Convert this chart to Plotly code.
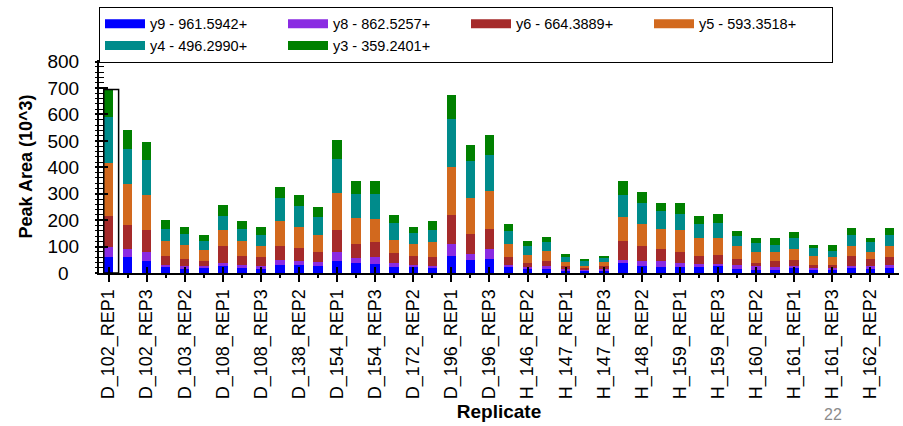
import plotly.graph_objects as go

# Replicate names (14 samples x 3 replicates)
replicates = [
    "D_102_REP1", "D_102_REP2", "D_102_REP3",
    "D_103_REP1", "D_103_REP2", "D_103_REP3",
    "D_108_REP1", "D_108_REP2", "D_108_REP3",
    "D_138_REP1", "D_138_REP2", "D_138_REP3",
    "D_154_REP1", "D_154_REP2", "D_154_REP3",
    "D_172_REP1", "D_172_REP2", "D_172_REP3",
    "D_196_REP1", "D_196_REP2", "D_196_REP3",
    "H_146_REP1", "H_146_REP2", "H_146_REP3",
    "H_147_REP1", "H_147_REP2", "H_147_REP3",
    "H_148_REP1", "H_148_REP2", "H_148_REP3",
    "H_159_REP1", "H_159_REP2", "H_159_REP3",
    "H_160_REP1", "H_160_REP2", "H_160_REP3",
    "H_161_REP1", "H_161_REP2", "H_161_REP3",
    "H_162_REP1", "H_162_REP2", "H_162_REP3",
]

# Peak areas (x10^3) per transition, stacked bottom to top
y9 = [59, 59, 47, 23, 15, 19, 28, 19, 16, 32, 32, 25, 47, 38, 34, 23, 23, 19, 63, 48, 53,
      21, 16, 15, 10, 10, 10, 38, 28, 21, 23, 21, 25, 16, 13, 13, 19, 13, 13, 19, 16, 19]
y8 = [38, 32, 31, 9, 10, 9, 10, 10, 9, 18, 12, 15, 31, 19, 25, 15, 6, 9, 48, 25, 38,
      11, 7, 10, 5, 4, 5, 12, 19, 23, 15, 14, 9, 13, 12, 8, 9, 6, 6, 9, 12, 13]
y6 = [120, 89, 86, 31, 28, 19, 63, 34, 34, 51, 51, 40, 86, 54, 57, 38, 34, 31, 110, 76, 77,
      27, 15, 19, 13, 5, 13, 70, 54, 47, 42, 28, 35, 25, 13, 23, 22, 13, 13, 35, 26, 27]
y5 = [199, 157, 130, 57, 52, 41, 62, 57, 42, 97, 78, 63, 139, 97, 90, 50, 48, 57, 179, 135, 144,
      52, 31, 41, 14, 9, 12, 91, 85, 77, 84, 70, 64, 47, 42, 34, 41, 31, 27, 38, 26, 44]
y4 = [175, 132, 135, 48, 43, 32, 54, 48, 44, 86, 79, 69, 129, 92, 94, 63, 40, 48, 181, 139, 135,
      47, 32, 32, 19, 20, 19, 83, 79, 65, 59, 53, 56, 38, 34, 27, 42, 32, 26, 42, 37, 42]
y3 = [103, 74, 67, 33, 26, 24, 40, 28, 28, 42, 42, 37, 73, 47, 48, 32, 23, 32, 94, 62, 74,
      28, 19, 19, 12, 5, 7, 53, 42, 32, 42, 31, 34, 19, 19, 28, 21, 12, 22, 27, 16, 25]

series_names = ["y9 - 961.5942+", "y8 - 862.5257+", "y6 - 664.3889+",
                "y5 - 593.3518+", "y4 - 496.2990+", "y3 - 359.2401+"]
series_values = [y9, y8, y6, y5, y4, y3]
series_colors = ["#0000FF", "#8A2BE2", "#A52A2A", "#D2691E", "#008B8B", "#008000"]

y_tick_values = [0, 100, 200, 300, 400, 500, 600, 700, 800]
# centre the labels by padding them to three digit widths with figure spaces
y_tick_text = []
for v in y_tick_values:
    s = str(v)
    pad = 3 - len(s)
    y_tick_text.append("\u2007" * (pad // 2) + s + "\u2007" * (pad - pad // 2))

selected_replicate = replicates[0]
page_number = "22"

FONT = "Liberation Sans, Arial, sans-serif"
RANGE_X = [-0.5, len(replicates) - 0.5]
RANGE_Y = [0, 806]

fig = go.Figure()

for name, vals, col in zip(series_names, series_values, series_colors):
    fig.add_trace(go.Bar(
        x=replicates, y=vals, name=name, legendgroup=name, showlegend=False,
        marker=dict(color=col, line=dict(width=0)),
    ))

# wide swatches for the legend
for name, col in zip(series_names, series_colors):
    fig.add_trace(go.Scatter(
        x=[None], y=[None], mode="lines", name=name, legendgroup=name,
        line=dict(color=col, width=9), hoverinfo="skip",
    ))

# helper traces that carry the extra tick axes
for xa, ya in (("x2", "y"), ("x3", "y"), ("x", "y2")):
    fig.add_trace(go.Scatter(
        x=replicates, y=[None] * len(replicates), xaxis=xa, yaxis=ya,
        mode="markers", showlegend=False, hoverinfo="skip",
    ))

# outline around the selected replicate
sel_idx = replicates.index(selected_replicate)
sel_total = sum(v[sel_idx] for v in series_values)
fig.add_shape(type="rect", xref="x", yref="y",
              x0=sel_idx - 0.25, x1=sel_idx + 0.53, y0=0, y1=sel_total,
              line=dict(color="black", width=1.5), fillcolor="rgba(0,0,0,0)")

fig.add_annotation(text=page_number, xref="paper", yref="paper", x=0.918, y=-0.708,
                   xanchor="center", yanchor="bottom", showarrow=False, borderpad=0,
                   font=dict(size=16, color="#8C8C8C", family=FONT))

cat_axis = dict(type="category", categoryorder="array", categoryarray=replicates,
                range=RANGE_X, showgrid=False, zeroline=False)

fig.update_layout(
    width=903, height=426,
    margin=dict(l=99, r=4, t=60, b=153),
    plot_bgcolor="white", paper_bgcolor="white",
    barmode="stack", bargap=0.5,
    font=dict(family=FONT, color="black"),
    showlegend=True,
    legend=dict(orientation="h", x=0, xanchor="left", y=1.25, yanchor="top",
                bordercolor="black", borderwidth=1, bgcolor="white",
                font=dict(size=14.5, family=FONT), itemwidth=40, entrywidth=128,
                traceorder="normal"),
    xaxis=dict(**cat_axis, tickvals=replicates[0::2], ticks="outside", ticklen=7,
               tickwidth=1.5, tickcolor="black", tickangle=-90,
               tickfont=dict(size=18), showline=True, linecolor="black", linewidth=2,
               title=dict(text="<b>Replicate</b>", font=dict(size=19), standoff=6)),
    xaxis2=dict(**cat_axis, overlaying="x", anchor="y", side="bottom",
                tickvals=replicates[1::2], ticks="outside", ticklen=4, tickwidth=1.5,
                tickcolor="black", showticklabels=False, showline=False),
    xaxis3=dict(**cat_axis, overlaying="x", anchor="y", side="bottom",
                tickvals=replicates[0::2], ticks="inside", ticklen=6, tickwidth=1.5,
                tickcolor="black", showticklabels=False, showline=False),
    yaxis=dict(range=RANGE_Y, tickvals=y_tick_values, ticktext=y_tick_text,
               ticks="inside", ticklen=9, tickwidth=1.5, tickcolor="black",
               minor=dict(dtick=20, tick0=0, ticks="inside", ticklen=5, tickwidth=1,
                          tickcolor="black"),
               ticklabelstandoff=14, tickfont=dict(size=19),
               showline=True, linecolor="black", linewidth=2, showgrid=False, zeroline=False,
               title=dict(text="<b>Peak Area (10^3)</b>", font=dict(size=18), standoff=10)),
    yaxis2=dict(range=RANGE_Y, overlaying="y", anchor="x", side="left",
                tickvals=y_tick_values, ticks="outside", ticklen=3, tickwidth=1.5,
                tickcolor="black",
                minor=dict(dtick=20, tick0=0, ticks="outside", ticklen=3, tickwidth=1,
                           tickcolor="black"),
                showticklabels=False, showline=False, showgrid=False, zeroline=False),
)

fig.write_html("out.html")
